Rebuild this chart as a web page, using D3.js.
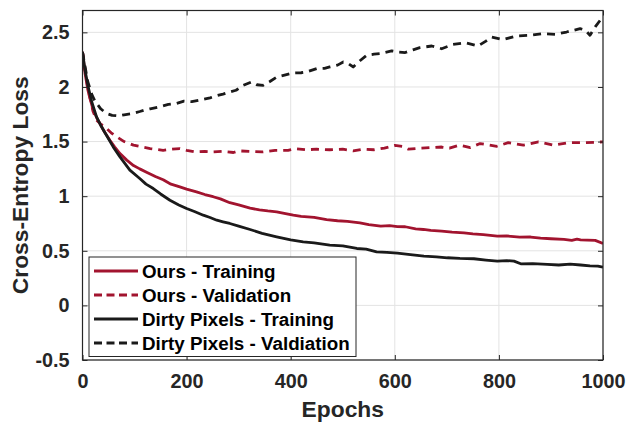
<!doctype html>
<html lang="en">
<head>
<meta charset="utf-8">
<title>Cross-Entropy Loss</title>
<script src="https://cdn.jsdelivr.net/npm/d3@7"></script>
<style>
  body { margin: 0; background: #fff; }
  svg text { font-family: "Liberation Sans", Arial, Helvetica, sans-serif; font-weight: bold; }
</style>
</head>
<body>
<svg id="chart" width="634" height="422"></svg>
<script>
// values: [epoch, loss]
var oursTrain = [[0,2.32],[5,2.12],[10,1.98],[14,1.90],[20,1.80],[27,1.72],[34,1.66],[42,1.59],[53,1.51],[62,1.45],[72,1.39],[85,1.33],[98,1.28],[110,1.25],[123,1.22],[140,1.18],[155,1.15],[170,1.11],[187,1.085],[200,1.065],[219,1.04],[235,1.015],[251,0.995],[265,0.975],[283,0.94],[300,0.92],[322,0.89],[340,0.875],[356,0.865],[373,0.857],[390,0.84],[405,0.826],[420,0.815],[445,0.805],[469,0.785],[490,0.775],[509,0.77],[533,0.756],[550,0.74],[573,0.725],[590,0.73],[605,0.722],[620,0.72],[640,0.70],[655,0.695],[669,0.686],[690,0.68],[710,0.67],[733,0.664],[750,0.655],[770,0.648],[797,0.635],[815,0.636],[840,0.625],[861,0.626],[880,0.615],[900,0.61],[925,0.604],[940,0.596],[950,0.606],[957,0.60],[970,0.598],[985,0.595],[1000,0.567]];

var oursVal = [[0,2.32],[10,2.0],[20,1.78],[27,1.695],[35,1.66],[43,1.634],[55,1.58],[66,1.543],[80,1.50],[98,1.467],[115,1.45],[130,1.436],[155,1.42],[172,1.43],[187,1.436],[200,1.42],[216,1.405],[235,1.41],[251,1.405],[270,1.41],[290,1.40],[300,1.415],[320,1.41],[345,1.405],[370,1.42],[395,1.42],[410,1.435],[430,1.425],[450,1.43],[475,1.425],[500,1.43],[520,1.415],[540,1.43],[560,1.425],[580,1.44],[600,1.465],[615,1.455],[626,1.43],[650,1.44],[670,1.445],[690,1.45],[705,1.44],[724,1.467],[745,1.445],[764,1.482],[780,1.47],[796,1.457],[818,1.49],[847,1.467],[876,1.497],[905,1.467],[934,1.49],[966,1.49],[1000,1.497]];

var dirtyTrain = [[0,2.32],[5,2.15],[11,2.0],[18,1.86],[27,1.725],[36,1.64],[46,1.558],[59,1.451],[72,1.36],[91,1.238],[110,1.162],[122,1.11],[136,1.07],[150,1.02],[168,0.963],[185,0.92],[200,0.887],[215,0.86],[232,0.826],[245,0.805],[258,0.78],[270,0.765],[283,0.75],[300,0.725],[322,0.695],[345,0.66],[373,0.628],[400,0.60],[424,0.582],[445,0.573],[475,0.552],[500,0.545],[527,0.521],[545,0.515],[565,0.49],[585,0.485],[605,0.478],[630,0.465],[656,0.451],[680,0.445],[701,0.436],[725,0.43],[752,0.427],[775,0.415],[797,0.405],[815,0.41],[829,0.405],[842,0.381],[865,0.382],[893,0.375],[915,0.37],[937,0.378],[957,0.37],[975,0.362],[990,0.36],[1000,0.35]];

var dirtyVal = [[0,2.32],[10,2.05],[18,1.93],[24,1.87],[35,1.80],[45,1.76],[57,1.74],[70,1.735],[80,1.745],[97,1.757],[110,1.775],[120,1.79],[130,1.80],[150,1.82],[165,1.84],[181,1.85],[195,1.87],[210,1.865],[226,1.88],[245,1.90],[258,1.92],[270,1.935],[283,1.954],[295,1.97],[309,2.015],[325,2.046],[335,2.02],[347,2.015],[360,2.05],[373,2.09],[390,2.11],[405,2.128],[420,2.13],[430,2.137],[450,2.168],[465,2.17],[475,2.183],[490,2.20],[501,2.229],[512,2.21],[520,2.183],[533,2.24],[546,2.29],[560,2.30],[571,2.305],[594,2.33],[606,2.32],[620,2.315],[635,2.34],[648,2.36],[671,2.375],[690,2.35],[712,2.39],[735,2.405],[748,2.39],[760,2.375],[775,2.42],[786,2.457],[808,2.434],[834,2.467],[860,2.473],[885,2.488],[908,2.482],[930,2.503],[956,2.534],[966,2.52],[975,2.473],[985,2.55],[997,2.626],[1000,2.64]];

var seriesNames = ["Ours - Training", "Ours - Validation", "Dirty Pixels - Training", "Dirty Pixels - Valdiation"];
var xTicks = [0, 200, 400, 600, 800, 1000];
var yTicks = [-0.5, 0, 0.5, 1, 1.5, 2, 2.5];

var red = "#a2142f", black = "#1a1a1a", axisColor = "#262626";
var series = [
  { data: oursTrain, color: red, dash: null },
  { data: oursVal, color: red, dash: "8,6" },
  { data: dirtyTrain, color: black, dash: null },
  { data: dirtyVal, color: black, dash: "8,6" }
];

// plot box (window.top is taken, so no bare "top")
var plotLeft = 82.5, plotRight = 603, plotTop = 10.5, plotBottom = 360;

var svg = d3.select("#chart");
var x = d3.scaleLinear().domain([0, 1000]).range([plotLeft, plotRight]);
var y = d3.scaleLinear().domain([-0.5, 2.7]).range([plotBottom, plotTop]);

// grid
svg.append("g").selectAll("line").data(xTicks).enter().append("line")
  .attr("x1", d => x(d)).attr("x2", d => x(d)).attr("y1", plotTop).attr("y2", plotBottom)
  .attr("stroke", "#e3e3e3").attr("stroke-width", 1);
svg.append("g").selectAll("line").data(yTicks).enter().append("line")
  .attr("x1", plotLeft).attr("x2", plotRight).attr("y1", d => y(d)).attr("y2", d => y(d))
  .attr("stroke", "#e3e3e3").attr("stroke-width", 1);

svg.append("clipPath").attr("id", "clip").append("rect")
  .attr("x", plotLeft).attr("y", plotTop).attr("width", plotRight - plotLeft).attr("height", plotBottom - plotTop);

var line = d3.line().x(d => x(d[0])).y(d => y(d[1]));

svg.append("g").attr("clip-path", "url(#clip)").selectAll("path")
  .data(series).enter().append("path")
  .attr("d", d => line(d.data))
  .attr("fill", "none")
  .attr("stroke", d => d.color)
  .attr("stroke-width", 2.8)
  .attr("stroke-dasharray", d => d.dash)
  .attr("stroke-linejoin", "round");

// axes, ticks inward on all four sides
function styleAxis(g) {
  g.select(".domain").remove();
  g.selectAll(".tick line").attr("stroke", axisColor);
  g.selectAll(".tick text").attr("fill", axisColor).style("font-size", "19.8px")
    .style("font-family", "'Liberation Sans', Arial, sans-serif").style("font-weight", "bold");
}
svg.append("g").attr("transform", "translate(0," + plotBottom + ")")
  .call(d3.axisBottom(x).tickValues(xTicks).tickSizeInner(-5).tickSizeOuter(0).tickPadding(14).tickFormat(d3.format("d")))
  .call(styleAxis);
svg.append("g").attr("transform", "translate(" + plotLeft + ",0)")
  .call(d3.axisLeft(y).tickValues(yTicks).tickSizeInner(-5).tickSizeOuter(0).tickPadding(13).tickFormat(d => String(d)))
  .call(styleAxis);
svg.append("g").attr("transform", "translate(0," + plotTop + ")")
  .call(d3.axisTop(x).tickValues(xTicks).tickSizeInner(-5).tickSizeOuter(0).tickFormat(""))
  .call(styleAxis);
svg.append("g").attr("transform", "translate(" + plotRight + ",0)")
  .call(d3.axisRight(y).tickValues(yTicks).tickSizeInner(-5).tickSizeOuter(0).tickFormat(""))
  .call(styleAxis);

svg.append("rect").attr("x", plotLeft).attr("y", plotTop).attr("width", plotRight - plotLeft).attr("height", plotBottom - plotTop)
  .attr("fill", "none").attr("stroke", axisColor).attr("stroke-width", 1.2);

// axis titles
svg.append("text").attr("x", (plotLeft + plotRight) / 2).attr("y", 417).attr("text-anchor", "middle")
  .attr("fill", axisColor).style("font-size", "22.8px").text("Epochs");
svg.append("text").attr("transform", "translate(28," + (plotTop + plotBottom) / 2 + ") rotate(-90)")
  .attr("text-anchor", "middle").attr("fill", axisColor).style("font-size", "22.8px").text("Cross-Entropy Loss");

// legend
var legend = svg.append("g");
legend.append("rect").attr("x", 89).attr("y", 257).attr("width", 267).attr("height", 99.5)
  .attr("fill", "#fff").attr("stroke", axisColor).attr("stroke-width", 1);
var rows = legend.selectAll("g.row").data(series).enter().append("g")
  .attr("transform", (d, i) => "translate(0," + (271 + i * 24) + ")");
rows.append("line").attr("x1", 94).attr("x2", 138).attr("y1", 0).attr("y2", 0)
  .attr("stroke", d => d.color).attr("stroke-width", 2.8).attr("stroke-dasharray", d => d.dash ? "8,4.5" : null);
rows.append("text").attr("x", 142).attr("y", 7).attr("fill", "#000").style("font-size", "18.8px")
  .text((d, i) => seriesNames[i]);
</script>
</body>
</html>
